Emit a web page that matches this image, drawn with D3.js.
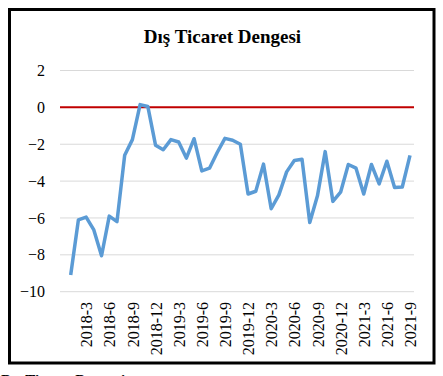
<!DOCTYPE html>
<html>
<head>
<meta charset="utf-8">
<script src="https://cdn.jsdelivr.net/npm/d3@7"></script>
<style>
  body { margin: 0; background: #fff; }
  svg text { font-family: "Times New Roman", "Liberation Serif", "DejaVu Serif", serif !important; fill: #000; }
</style>
</head>
<body>
<div id="chart"></div>
<script>
// monthly trade balance, 2018-1 .. 2021-9
const years = [2018, 2019, 2020, 2021]
const months = years.flatMap(y => d3.range(1, 13).map(m => y + "-" + m)).slice(0, 45)
const balance = [
  -9.1, -6.1, -5.95, -6.65, -8.05, -5.9, -6.2, -2.6, -1.75, 0.15, 0.05, -2.05,
  -2.3, -1.75, -1.88, -2.75, -1.7, -3.45, -3.3, -2.45, -1.68, -1.78, -2.0, -4.7,
  -4.55, -3.08, -5.5, -4.75, -3.5, -2.88, -2.82, -6.25, -4.8, -2.4, -5.1, -4.6,
  -3.1, -3.3, -4.7, -3.1, -4.15, -2.92, -4.35, -4.32, -2.6
]
const yTicks = [2, 0, -2, -4, -6, -8, -10]
const xLabels = months.filter(m => +m.split("-")[1] % 3 == 0)

const width = 443, height = 376
const svg = d3.select("#chart").append("svg").attr("width", width).attr("height", height)

//frame
svg.append("rect")
  .attr("x", 9.5).attr("y", 9.5).attr("width", 424.5).attr("height", 353.5)
  .attr("fill", "none").attr("stroke", "#000").attr("stroke-width", 3)

svg.append("text")
  .text("Dış Ticaret Dengesi")
  .attr("x", 222.5).attr("y", 43)
  .attr("text-anchor", "middle")
  .style("font-size", "19px").style("font-weight", "bold")

let x = d3.scalePoint().domain(months).range([70.7, 410])
let y = d3.scaleLinear().domain([-10, 2]).range([291.7, 70.5])

// grid lines
svg.selectAll(".grid")
  .data(yTicks.filter(d => d != 0))
  .enter().append("line")
  .attr("class", "grid")
  .attr("x1", 60).attr("x2", 414)
  .attr("y1", d => y(d)).attr("y2", d => y(d))
  .attr("stroke", "#d9d9d9").attr("stroke-width", 1)

// y axis labels
const yAxis = svg.append("g").attr("transform", "translate(45,0)")
  .call(d3.axisLeft(y).tickValues(yTicks).tickSize(0).tickPadding(0).tickFormat(d3.format("d")))
yAxis.attr("font-family", null).select(".domain").remove()
yAxis.selectAll("text").style("font-size", "16px")

// x axis labels
const xAxis = svg.append("g").attr("transform", "translate(0,300)")
  .call(d3.axisBottom(x).tickValues(xLabels).tickSize(0).tickPadding(0))
xAxis.attr("font-family", null).select(".domain").remove()
xAxis.selectAll("text")
  .attr("transform", "rotate(-90)")
  .attr("text-anchor", "end")
  .attr("x", -2).attr("y", 0).attr("dy", "0.35em")
  .style("font-size", "16px")

// zero line
svg.append("line")
  .attr("x1", 60).attr("x2", 414)
  .attr("y1", y(0)).attr("y2", y(0))
  .attr("stroke", "#c00000").attr("stroke-width", 2)

const line = d3.line().x((d, i) => x(months[i])).y(d => y(d))
svg.append("path")
  .datum(balance)
  .attr("d", line)
  .attr("fill", "none")
  .attr("stroke", "#5b9bd5")
  .attr("stroke-width", 3.5)
  .attr("stroke-linejoin", "round")

// caption cut off at bottom edge
svg.append("text")
  .text("Dış Ticaret Dengesi")
  .attr("x", 1).attr("y", 385)
  .style("font-size", "15px").style("font-weight", "bold")
</script>
</body>
</html>
